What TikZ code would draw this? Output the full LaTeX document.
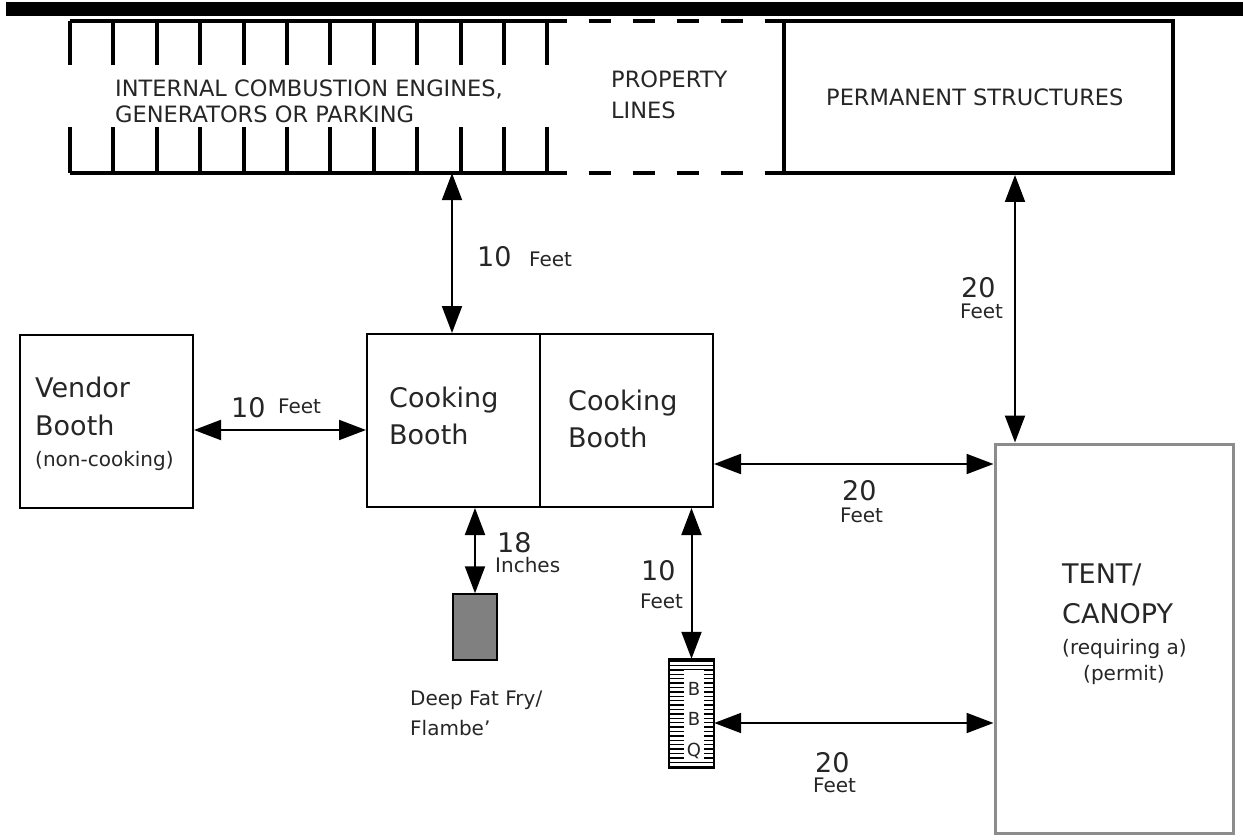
\documentclass[tikz,border=0pt]{standalone}
\usepackage{fontspec}
\setmainfont{DejaVu Sans}
\usetikzlibrary{arrows.meta}
\begin{document}
\begin{tikzpicture}[x=1pt,y=-1pt,
  txt/.style={anchor=base west, inner sep=0pt, text=black!85},
  fcaps/.style={font=\fontsize{22.5}{27}\selectfont},
  fbig/.style={font=\fontsize{27}{32}\selectfont},
  fsmall/.style={font=\fontsize{20}{24}\selectfont},
  fbbq/.style={font=\fontsize{18}{20}\selectfont},
  heavy/.style={line width=4pt},
  booth/.style={draw, line width=2pt, rectangle, inner sep=0pt},
  area/.style={rectangle, inner sep=0pt},
  arr/.style={line width=2pt, >={Triangle[length=27pt,width=20pt]}, <->}
]
\useasboundingbox (0,0) rectangle (1243,840);
\fill[white] (0,0) rectangle (1243,840);
% top bar
\fill[black] (6,2) rectangle (1243,16);

% areas
\node[area, minimum width=497pt, minimum height=152pt] (engines) at (318.5,97) {};
\node[area, minimum width=217pt, minimum height=152pt] (property) at (675.5,97) {};
\node[draw, heavy, area, minimum width=389pt, minimum height=152pt] (perm) at (978.5,97) {};

% engines hatched border
\draw[heavy] (engines.north west) -- (engines.north east);
\draw[heavy] (engines.south west) -- (engines.south east);
\foreach \i in {0,...,11} {
  \draw[heavy] ({70+43.4*\i},21) -- ({70+43.4*\i},65);
  \draw[heavy] ({70+43.4*\i},127) -- ({70+43.4*\i},173);
}
% property lines (dashed)
\draw[heavy, dash pattern=on 22pt off 22pt, dash phase=22pt] (property.north west) -- (property.north east);
\draw[heavy, dash pattern=on 22pt off 22pt, dash phase=22pt] (property.south west) -- (property.south east);

% booths
\node[booth, minimum width=173pt, minimum height=173pt] (vendor) at (106.5,421.5) {};
\node[booth, minimum width=346pt, minimum height=173pt] (cook) at (540,420.5) {};
\draw[line width=2pt] (cook.north) -- (cook.south);
\node[draw=black!45, line width=3pt, area, minimum width=238pt, minimum height=389pt] (tent) at (1114,638.5) {};
\node[draw, line width=1.5pt, fill=black!50, area, minimum width=44pt, minimum height=66pt] (fry) at (475,627) {};

% BBQ grill
\node[area, minimum width=45pt, minimum height=109pt] (bbq) at (691.5,713.5) {};
\foreach \k in {0,...,24} {
  \draw[line width=1.4pt] (669,{661+4.4*\k}) -- (714,{661+4.4*\k});
}
\fill[white] (684,670) rectangle (704,760);
\draw[line width=2pt] (bbq.north west) rectangle (bbq.south east);
\node[fbbq, anchor=base, inner sep=0pt, text=black!85] (b1) at (694,695) {B};
\node[fbbq, anchor=base, inner sep=0pt, text=black!85] (b2) at (694,725) {B};
\node[fbbq, anchor=base, inner sep=0pt, text=black!85] (b3) at (694,756) {Q};

% connector helper coordinates
\coordinate (c1) at (452,0);
\coordinate (c2) at (1015,0);
\coordinate (r1) at (0,430);
\coordinate (r2) at (0,464);
\coordinate (r3) at (0,723);

% connectors
\draw[arr] (engines.south -| c1) -- (cook.north -| c1);
\draw[arr] (perm.south -| c2) -- (tent.north -| c2);
\draw[arr] (vendor.east |- r1) -- (cook.west |- r1);
\draw[arr] (cook.east |- r2) -- (tent.west |- r2);
\draw[arr] (cook.south -| fry.north) -- (fry.north);
\draw[arr] (cook.south -| bbq.north) -- (bbq.north);
\draw[arr] (bbq.east |- r3) -- (tent.west |- r3);

% texts
\node[txt, fcaps] (t1) at (115,97) {INTERNAL COMBUSTION ENGINES,};
\node[txt, fcaps] (t2) at (115,123) {GENERATORS OR PARKING};
\node[txt, fcaps] (t3) at (611,88) {PROPERTY};
\node[txt, fcaps] (t4) at (611,119) {LINES};
\node[txt, fcaps] (t5) at (826,106) {PERMANENT STRUCTURES};

\node[txt, fbig] (v1) at (35,397) {Vendor};
\node[txt, fbig] (v2) at (35,435) {Booth};
\node[txt, fsmall] (v3) at (35,466) {(non-cooking)};

\node[txt, fbig] (k1) at (389,407) {Cooking};
\node[txt, fbig] (k2) at (389,444) {Booth};
\node[txt, fbig] (k3) at (568,410) {Cooking};
\node[txt, fbig] (k4) at (568,447) {Booth};

\node[txt, fbig] (n1) at (477,266) {10};
\node[txt, fsmall] (f1) at (529,266) {Feet};
\node[txt, fbig] (n2) at (231,417) {10};
\node[txt, fsmall] (f2) at (278,413) {Feet};
\node[txt, fbig] (n3) at (961,297) {20};
\node[txt, fsmall] (f3) at (960,318) {Feet};
\node[txt, fbig] (n4) at (842,500) {20};
\node[txt, fsmall] (f4) at (840,522) {Feet};
\node[txt, fbig] (n5) at (497,552) {18};
\node[txt, fsmall] (f5) at (495,572) {Inches};
\node[txt, fbig] (n6) at (641,580) {10};
\node[txt, fsmall] (f6) at (640,608) {Feet};
\node[txt, fbig] (n7) at (815,772) {20};
\node[txt, fsmall] (f7) at (813,792) {Feet};

\node[txt, fsmall] (d1) at (410,705) {Deep Fat Fry/};
\node[txt, fsmall] (d2) at (410,735) {Flambe'};

\node[txt, fbig] (e1) at (1062,583) {TENT/};
\node[txt, fbig] (e2) at (1062,623) {CANOPY};
\node[txt, fsmall] (e3) at (1062,654) {(requiring a)};
\node[txt, fsmall] (e4) at (1083,680) {(permit)};
\end{tikzpicture}
\end{document}
